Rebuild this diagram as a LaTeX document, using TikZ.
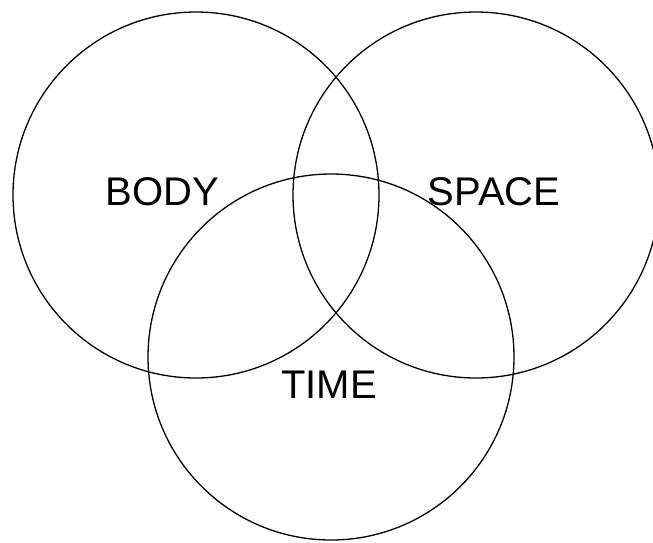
\documentclass[tikz,border=0pt]{standalone}
\usepackage{fontspec}
\setmainfont{Liberation Sans}
\begin{document}
\begin{tikzpicture}[x=1pt,y=-1pt,
  ring/.style={draw=black,line width=1.3pt},
  lbl/.style={font=\fontsize{40}{48}\selectfont,inner sep=0pt}]
\useasboundingbox (0,0) rectangle (653,542);
\clip (0,0) rectangle (653,542);
\draw[ring] (196,195) circle[radius=183];
\draw[ring] (476,195) circle[radius=183];
\draw[ring] (331,357) circle[radius=183];
\node[lbl] (body) at (162,192) {BODY};
\node[lbl] (space) at (494,192) {SPACE};
\node[lbl] (time) at (329,385) {TIME};
\end{tikzpicture}
\end{document}
